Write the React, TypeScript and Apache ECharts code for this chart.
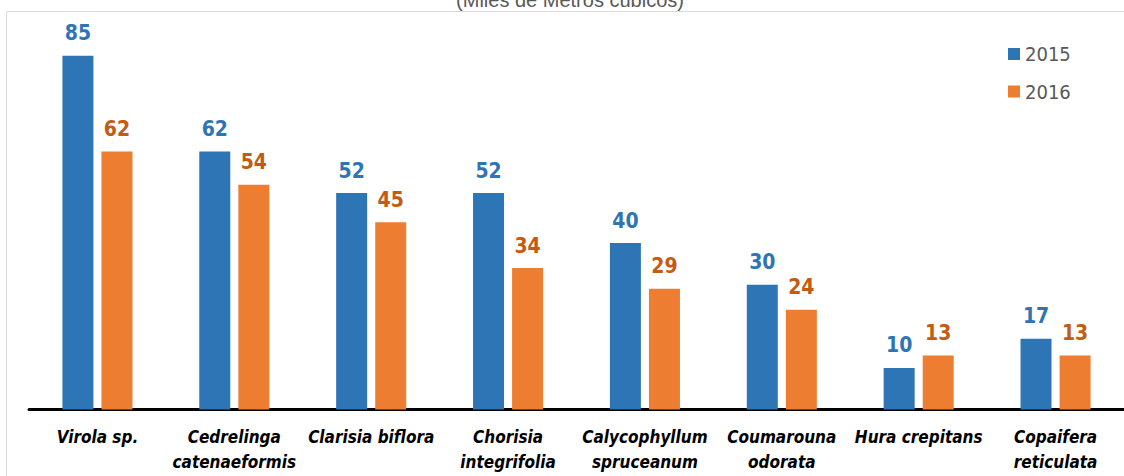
import React, { useEffect, useRef } from "react";
import * as echarts from "echarts";

const categories = [
  "Virola sp.",
  "Cedrelinga\ncatenaeformis",
  "Clarisia biflora",
  "Chorisia\nintegrifolia",
  "Calycophyllum\nspruceanum",
  "Coumarouna\nodorata",
  "Hura crepitans",
  "Copaifera\nreticulata",
];
const values2015 = [85, 62, 52, 52, 40, 30, 10, 17];
const values2016 = [62, 54, 45, 34, 29, 24, 13, 13];
const seriesNames = ["2015", "2016"];
const titleText = "(Miles de Metros cúbicos)";

const NARROW = "'Liberation Sans Narrow', 'Arial Narrow', 'DejaVu Sans Condensed', sans-serif";

export default function App() {
  const ref = useRef<HTMLDivElement>(null);
  useEffect(() => {
    if (!ref.current) return;
    const chart = echarts.init(ref.current, null, { renderer: "svg" });
    const labelBase = {
      show: true,
      position: "top" as const,
      distance: 12,
      fontFamily: NARROW,
      fontWeight: "bold" as const,
      fontSize: 21,
    };
    chart.setOption({
      animation: false,
      backgroundColor: "#ffffff",
      graphic: [
        {
          type: "rect",
          shape: { x: 6.5, y: 11.5, width: 1130, height: 480 },
          style: { fill: "none", stroke: "#d9d9d9", lineWidth: 1 },
          silent: true,
          z: -1,
        },
        {
          type: "text",
          x: 570,
          y: 0,
          style: {
            text: titleText,
            fill: "#595959",
            font: "20px 'Liberation Sans', Arial, sans-serif",
            textAlign: "center",
            textVerticalAlign: "middle",
          },
        },
      ],
      legend: {
        data: seriesNames,
        orient: "vertical",
        left: 1008,
        top: 43,
        padding: 0,
        itemWidth: 12,
        itemHeight: 12,
        itemGap: 15.5,
        icon: "rect",
        textStyle: {
          fontFamily: NARROW,
          fontSize: 20,
          lineHeight: 22,
          color: "#595959",
          padding: [0, 0, 0, 0],
        },
      },
      grid: { left: 29, right: -1, top: 35, bottom: 66.5, containLabel: false },
      xAxis: {
        type: "category",
        data: categories,
        axisLine: { show: true, lineStyle: { color: "#000000", width: 3 } },
        axisTick: { show: false },
        axisLabel: {
          interval: 0,
          margin: 15,
          color: "#000000",
          fontFamily: NARROW,
          fontWeight: "bold",
          fontStyle: "italic",
          fontSize: 17,
          lineHeight: 25,
        },
      },
      yAxis: {
        type: "value",
        min: 0,
        max: 90,
        show: false,
        splitLine: { show: false },
      },
      series: [
        {
          name: seriesNames[0],
          type: "bar",
          data: values2015,
          barWidth: 31,
          barGap: "26%",
          itemStyle: { color: "#2E75B6" },
          label: { ...labelBase, color: "#2E75B6" },
        },
        {
          name: seriesNames[1],
          type: "bar",
          data: values2016,
          barWidth: 31,
          itemStyle: { color: "#ED7D31" },
          label: { ...labelBase, color: "#C55A11" },
        },
      ],
    });
    return () => chart.dispose();
  }, []);
  return (
    <div
      ref={ref}
      style={{ position: "fixed", left: 0, top: 0, width: 1124, height: 476 }}
    />
  );
}
